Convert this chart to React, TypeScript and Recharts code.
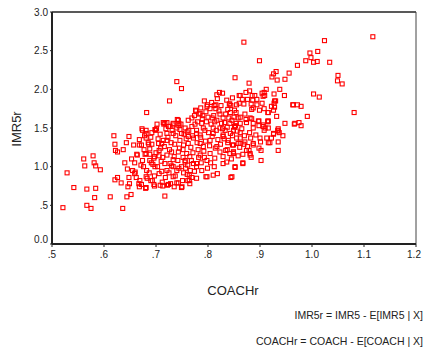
import { ScatterChart, Scatter, XAxis, YAxis, ReferenceLine } from "recharts";

const xTicks = [0.5, 0.6, 0.7, 0.8, 0.9, 1.0, 1.1, 1.2];
const xTickLabels = [".5", ".6", ".7", ".8", ".9", "1.0", "1.1", "1.2"];
const yTicks = [0, 0.5, 1, 1.5, 2, 2.5, 3];
const yTickLabels = ["0.0", ".5", "1.0", "1.5", "2.0", "2.5", "3.0"];

// [COACHr, IMR5r]
const points: [number, number][] = [
  [0.521, 0.47], [0.529, 0.92], [0.542, 0.73], [0.561, 1.10], [0.563, 1.01], [0.567, 0.71], [0.567, 0.50],
  [0.575, 0.46], [0.579, 1.14], [0.581, 1.05], [0.584, 1.01], [0.584, 0.72], [0.582, 0.60], [0.593, 0.96],
  [0.612, 0.61], [0.619, 1.40], [0.621, 1.29], [0.622, 1.21], [0.626, 1.19], [0.621, 0.83], [0.626, 0.86],
  [0.633, 0.79], [0.636, 0.46], [0.637, 1.22], [0.643, 1.31], [0.648, 1.39], [0.644, 0.61], [0.645, 0.97],
  [0.646, 0.74], [0.648, 0.86], [0.652, 0.64], [0.649, 0.78], [0.655, 0.95], [0.659, 0.91], [0.663, 1.16],
  [0.668, 1.35], [0.671, 1.02], [0.669, 0.82], [0.667, 0.78], [0.672, 0.77], [0.668, 0.74], [0.674, 1.47],
  [0.681, 1.47], [0.678, 1.40], [0.681, 1.37], [0.672, 1.28], [0.681, 1.17], [0.686, 1.29], [0.688, 1.23],
  [0.682, 0.95], [0.687, 0.92], [0.680, 0.72], [0.693, 0.82], [0.691, 1.05], [0.696, 1.11], [0.696, 0.77],
  [0.699, 1.47], [0.705, 1.30], [0.709, 1.24], [0.706, 1.14], [0.703, 1.00], [0.710, 1.07], [0.706, 0.91],
  [0.712, 0.80], [0.708, 0.76], [0.717, 0.62], [0.722, 0.76], [0.728, 0.78], [0.735, 0.74], [0.740, 0.79],
  [0.750, 0.74], [0.751, 0.82], [0.761, 0.82], [0.764, 0.89], [0.769, 0.86], [0.753, 0.92], [0.740, 0.95],
  [0.721, 0.95], [0.727, 1.04], [0.733, 1.09], [0.721, 1.15], [0.714, 1.34], [0.721, 1.43], [0.727, 1.52],
  [0.717, 1.56], [0.733, 1.56], [0.740, 1.50], [0.749, 1.43], [0.746, 1.34], [0.753, 1.28], [0.743, 1.19],
  [0.759, 1.17], [0.765, 1.13], [0.756, 1.06], [0.772, 1.04], [0.778, 1.00], [0.788, 0.95], [0.798, 0.87],
  [0.810, 0.89], [0.818, 0.91], [0.829, 1.04], [0.836, 1.06], [0.846, 0.87], [0.852, 1.00], [0.769, 1.52],
  [0.762, 1.39], [0.785, 1.41], [0.791, 1.26], [0.804, 1.34], [0.810, 1.43], [0.817, 1.26], [0.823, 1.19],
  [0.842, 1.17], [0.849, 1.19], [0.847, 1.28], [0.839, 1.34], [0.829, 1.39], [0.833, 1.47], [0.855, 1.37],
  [0.858, 1.30], [0.842, 1.56], [0.794, 1.47], [0.778, 1.47], [0.798, 1.08], [0.785, 1.15], [0.804, 1.17],
  [0.813, 1.11], [0.733, 1.00], [0.749, 1.00], [0.778, 0.85], [0.765, 0.78],
  [0.660, 0.93], [0.681, 0.73], [0.681, 0.87], [0.690, 0.82], [0.697, 0.75], [0.713, 0.75], [0.724, 0.77],
  [0.749, 0.73], [0.743, 0.79], [0.764, 0.82], [0.796, 0.87], [0.733, 0.87],
  [0.740, 2.10], [0.749, 2.01], [0.726, 1.85], [0.682, 1.70], [0.852, 2.15], [0.817, 1.93], [0.822, 1.96],
  [0.828, 1.95], [0.847, 1.89], [0.860, 1.92], [0.855, 1.80], [0.842, 1.81], [0.838, 1.74], [0.812, 1.79],
  [0.815, 1.75], [0.798, 1.78], [0.804, 1.75], [0.776, 1.73], [0.796, 1.71], [0.790, 1.66], [0.783, 1.68],
  [0.823, 1.68], [0.834, 1.68], [0.808, 1.63], [0.829, 1.63], [0.817, 1.60], [0.846, 1.60], [0.858, 1.63],
  [0.769, 1.63], [0.762, 1.60], [0.743, 1.60], [0.744, 1.53], [0.733, 1.54], [0.721, 1.57], [0.715, 1.55],
  [0.701, 1.49], [0.673, 1.49], [0.756, 1.50], [0.788, 1.56], [0.791, 1.50], [0.810, 1.50], [0.828, 1.49],
  [0.853, 1.53],
  [0.869, 2.61], [1.024, 2.63], [1.117, 2.68], [0.899, 2.37], [0.996, 2.47], [1.011, 2.49], [0.998, 2.41],
  [0.988, 2.37], [1.003, 2.35], [1.010, 2.36], [1.034, 2.35], [0.972, 2.31], [0.956, 2.21], [0.931, 2.23],
  [0.926, 2.20], [0.923, 2.16], [0.933, 2.12], [0.948, 2.13], [0.879, 2.08], [1.050, 2.18], [1.049, 2.11],
  [1.058, 2.07], [0.938, 2.00], [0.912, 2.00], [0.904, 1.95], [0.909, 1.92], [0.927, 1.94], [0.947, 1.92],
  [1.003, 1.94], [1.014, 1.90], [0.880, 1.98], [0.873, 1.96], [0.866, 1.87], [0.876, 1.87], [0.885, 1.92],
  [0.894, 1.87], [0.930, 1.85], [0.927, 1.82], [0.928, 1.77], [0.926, 1.73], [0.904, 1.82], [0.894, 1.80],
  [0.884, 1.74], [0.908, 1.75], [0.899, 1.73], [0.915, 1.70], [0.964, 1.80], [0.972, 1.80], [0.979, 1.78],
  [1.081, 1.70], [0.991, 1.65], [0.932, 1.65], [0.898, 1.59], [0.915, 1.59], [0.948, 1.56], [0.967, 1.56],
  [0.975, 1.57], [0.979, 1.53], [0.935, 1.49], [0.910, 1.50], [0.887, 1.50], [0.854, 1.70], [0.869, 1.81],
  [0.844, 1.79], [0.871, 1.68], [0.862, 1.64], [0.873, 1.61], [0.854, 1.56], [0.862, 1.56], [0.851, 1.51],
  [0.883, 1.81], [0.886, 1.86], [0.851, 1.73],
  [0.844, 0.86], [0.867, 1.04], [0.902, 1.08], [0.935, 1.21], [0.858, 1.14], [0.849, 1.17], [0.883, 1.12],
  [0.881, 1.17], [0.874, 1.21], [0.898, 1.24], [0.887, 1.30], [0.869, 1.29], [0.862, 1.30], [0.847, 1.40],
  [0.862, 1.37], [0.882, 1.37], [0.892, 1.41], [0.900, 1.37], [0.916, 1.31], [0.922, 1.37], [0.926, 1.42],
  [0.937, 1.44], [0.944, 1.40], [0.916, 1.50], [0.908, 1.47], [0.906, 1.54], [0.915, 1.58], [0.934, 1.47],
  [0.862, 1.44], [0.851, 1.52], [0.874, 1.57],
  [0.681, 1.43], [0.698, 1.48], [0.714, 1.57], [0.724, 1.52], [0.741, 1.61], [0.744, 1.56], [0.746, 1.48],
  [0.760, 1.45], [0.777, 1.72], [0.785, 1.69], [0.778, 1.43], [0.772, 1.37], [0.785, 1.30], [0.762, 1.30],
  [0.733, 1.43], [0.721, 1.34], [0.711, 1.30], [0.692, 1.29], [0.668, 1.28], [0.679, 1.16], [0.688, 1.16],
  [0.697, 1.13], [0.706, 1.21], [0.730, 1.19], [0.735, 1.13], [0.756, 1.08], [0.778, 1.04], [0.717, 1.04],
  [0.698, 1.00], [0.674, 1.08], [0.664, 1.15], [0.676, 1.00],
  [0.862, 1.92], [0.890, 1.92], [0.908, 1.96], [0.906, 1.91], [0.928, 1.85], [0.922, 1.78], [0.916, 1.70],
  [0.963, 1.80], [0.966, 1.55], [0.935, 1.46], [0.926, 1.43], [0.906, 1.52], [0.916, 1.59], [0.897, 1.59],
  [0.887, 1.56], [0.898, 1.53], [0.913, 1.37], [0.919, 1.31], [0.935, 1.32], [0.901, 1.32], [0.902, 1.21],
  [0.879, 1.21], [0.881, 1.15], [0.887, 1.28], [0.871, 1.32], [0.849, 1.28], [0.849, 1.19], [0.867, 1.16],
  [0.838, 1.31], [0.837, 1.22], [0.829, 1.13], [0.867, 1.05], [0.852, 0.99], [0.849, 1.47], [0.829, 1.41],
  [0.823, 1.50], [0.881, 1.63], [0.799, 1.80], [0.815, 1.80], [0.841, 1.81], [0.860, 1.82], [0.887, 1.76],
  [0.752, 1.22], [0.758, 1.36], [0.763, 1.47], [0.767, 1.25], [0.771, 1.18], [0.775, 1.55], [0.779, 1.31],
  [0.782, 1.12], [0.786, 1.38], [0.789, 1.62], [0.792, 1.20], [0.795, 1.33], [0.797, 1.58], [0.801, 1.44],
  [0.803, 1.27], [0.806, 1.55], [0.808, 1.39], [0.811, 1.66], [0.814, 1.24], [0.816, 1.47], [0.819, 1.35],
  [0.821, 1.72], [0.824, 1.29], [0.826, 1.56], [0.831, 1.36], [0.834, 1.21], [0.837, 1.51], [0.840, 1.63],
  [0.843, 1.43], [0.845, 1.10],
  [0.700, 1.18], [0.704, 1.36], [0.708, 1.42], [0.713, 1.12], [0.716, 1.26], [0.719, 1.49], [0.723, 1.38],
  [0.726, 1.22], [0.729, 1.31], [0.731, 1.47], [0.736, 1.29], [0.738, 1.40], [0.742, 1.08], [0.745, 1.24],
  [0.748, 1.55], [0.754, 1.42], [0.757, 0.98], [0.761, 1.02], [0.766, 0.95], [0.770, 1.40],
  [0.690, 1.38], [0.694, 1.03], [0.697, 0.88], [0.702, 1.55], [0.711, 0.94], [0.718, 0.86], [0.725, 0.92],
  [0.730, 1.01], [0.737, 0.88], [0.744, 0.98], [0.752, 1.12], [0.760, 0.90], [0.768, 1.08], [0.774, 0.94],
  [0.781, 1.22], [0.787, 1.05], [0.793, 1.12], [0.799, 0.98], [0.805, 1.05], [0.812, 1.00],
  [0.774, 1.66], [0.780, 1.58], [0.786, 1.76], [0.793, 1.85], [0.800, 1.64], [0.807, 1.83], [0.813, 1.58],
  [0.818, 1.88], [0.825, 1.79], [0.832, 1.57], [0.836, 1.86], [0.843, 1.70], [0.850, 1.64], [0.856, 1.46],
  [0.861, 1.25], [0.865, 1.49], [0.870, 1.40], [0.876, 1.26], [0.880, 1.44], [0.884, 1.62],
  [0.688, 1.08], [0.685, 1.31], [0.692, 1.44], [0.677, 1.22], [0.683, 0.85], [0.659, 1.05], [0.662, 0.86],
  [0.653, 1.10], [0.657, 1.28], [0.640, 1.05],
];

const data = points.map(([coachr, imr5r]) => ({ coachr, imr5r }));

const FONT = "'Liberation Sans', Arial, sans-serif";
const INK = "#222";
const RED = "#ff0000";

// open red square outline, about 5px across
const renderSquare = (props: any) => {
  const { cx, cy } = props;
  if (cx == null || cy == null) return <g />;
  return <rect x={cx - 2} y={cy - 2} width={4} height={4} fill="none" stroke={RED} strokeWidth={1.1} />;
};

function YTick({ x, y, payload }: any) {
  const i = yTicks.indexOf(payload.value);
  // the zero label sits a little above the axis corner
  const shift = payload.value === 0 ? -5 : 0;
  return (
    <text x={x} y={y + shift} dy="0.36em" textAnchor="end" fontSize={10} fontFamily={FONT} fill={INK}>
      {yTickLabels[i]}
    </text>
  );
}

function XTick({ x, y, payload }: any) {
  const i = xTicks.indexOf(payload.value);
  return (
    <text x={x} y={y} dy="0.71em" textAnchor="middle" fontSize={10} fontFamily={FONT} fill={INK}>
      {xTickLabels[i]}
    </text>
  );
}

export default function App() {
  return (
    <div
      style={{
        position: "absolute",
        left: 0,
        top: 0,
        width: 424,
        height: 352,
        background: "#fff",
        fontFamily: FONT,
        color: INK,
      }}
    >
      <ScatterChart width={424} height={352} margin={{ top: 12, right: 8, bottom: 78, left: 0 }}>
        <XAxis
          type="number"
          dataKey="coachr"
          domain={[0.5, 1.2]}
          ticks={xTicks}
          height={30}
          tickSize={3}
          tickMargin={4}
          tick={<XTick />}
          axisLine={{ stroke: INK, strokeWidth: 2 }}
          tickLine={{ stroke: INK }}
          allowDataOverflow
        />
        <YAxis
          type="number"
          dataKey="imr5r"
          domain={[0, 3]}
          ticks={yTicks}
          width={52}
          tickSize={2}
          tickMargin={2}
          tick={<YTick />}
          axisLine={{ stroke: INK, strokeWidth: 2 }}
          tickLine={{ stroke: INK }}
          allowDataOverflow
        />
        <ReferenceLine y={3} stroke={INK} strokeWidth={1.5} />
        <ReferenceLine x={1.2} stroke="#444" strokeWidth={1} />
        <Scatter data={data} fill="none" stroke={RED} shape={renderSquare} isAnimationActive={false} />
      </ScatterChart>

      {/* axis titles */}
      <div
        style={{
          position: "absolute",
          left: 16,
          top: 129,
          fontSize: 13,
          transform: "translate(-50%, -50%) rotate(-90deg)",
          whiteSpace: "nowrap",
        }}
      >
        IMR5r
      </div>
      <div
        style={{
          position: "absolute",
          left: 233,
          top: 290,
          fontSize: 13,
          transform: "translate(-50%, -50%)",
          whiteSpace: "nowrap",
        }}
      >
        COACHr
      </div>

      {/* footnotes */}
      <div style={{ position: "absolute", right: 1, top: 309, fontSize: 10.5, whiteSpace: "nowrap" }}>
        IMR5r = IMR5 - E[IMR5 | X]
      </div>
      <div style={{ position: "absolute", right: 1, top: 335, fontSize: 10.5, whiteSpace: "nowrap" }}>
        COACHr = COACH - E[COACH | X]
      </div>
    </div>
  );
}
